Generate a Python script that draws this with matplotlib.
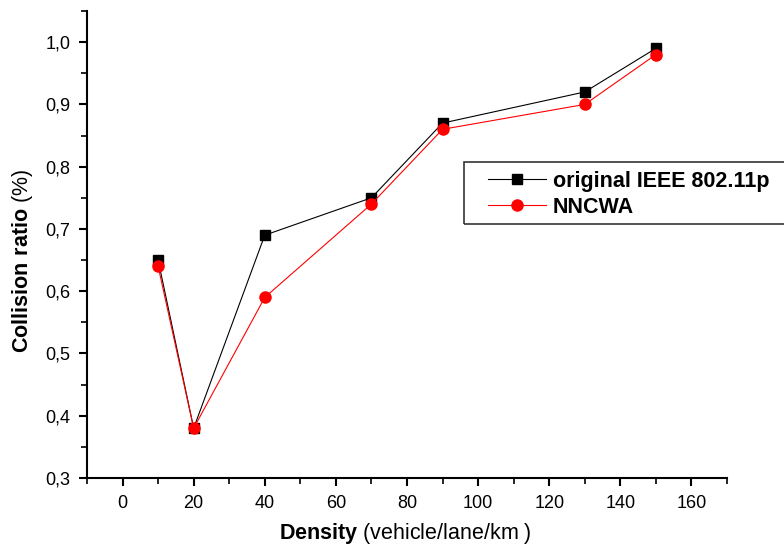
import matplotlib
matplotlib.use("Agg")
import matplotlib.pyplot as plt
from matplotlib.patches import Rectangle
from matplotlib.ticker import MultipleLocator

plt.rcParams['font.family'] = ['Liberation Sans', 'DejaVu Sans']
plt.rcParams['mathtext.fontset'] = 'custom'
plt.rcParams['mathtext.rm'] = 'Liberation Sans'
plt.rcParams['mathtext.bf'] = 'Liberation Sans:bold'

# Vehicle density (vehicle/lane/km)
density = [10, 20, 40, 70, 90, 130, 150]
# Collision ratio per scheme
ieee_80211p = [0.65, 0.38, 0.69, 0.75, 0.87, 0.92, 0.99]
nncwa = [0.64, 0.38, 0.59, 0.74, 0.86, 0.90, 0.98]

W, H = 784, 547
fig = plt.figure(figsize=(W / 100, H / 100), dpi=100)
ax = fig.add_axes([87 / W, 1 - 478 / H, (727 - 87) / W, (478 - 11) / H])

ax.plot(density, ieee_80211p, color='black', lw=0.8, marker='s', ms=7,
        mfc='black', mec='black', label='original IEEE 802.11p', zorder=3)
ax.plot(density, nncwa, color='red', lw=0.8, marker='o', ms=8,
        mfc='red', mec='red', label='NNCWA', zorder=4)

ax.set_xlim(-10, 170)
ax.set_ylim(0.3, 1.05)
ax.xaxis.set_major_locator(MultipleLocator(20))
ax.xaxis.set_minor_locator(MultipleLocator(10))
ax.yaxis.set_major_locator(MultipleLocator(0.1))
ax.yaxis.set_minor_locator(MultipleLocator(0.05))
ax.yaxis.set_major_formatter(plt.FuncFormatter(lambda v, p: f"{v:.1f}".replace('.', ',')))

for s in ('top', 'right'):
    ax.spines[s].set_visible(False)
for s in ('left', 'bottom'):
    ax.spines[s].set_linewidth(1.5)

ax.tick_params(axis='both', which='major', direction='out', length=6, width=1.5,
               labelsize=13, pad=6)
ax.tick_params(axis='both', which='minor', direction='out', length=4, width=1.2)

# Axis titles: bold quantity followed by regular unit
fig.text(405.5 / W, 1 - 539 / H, r'$\bf{Density}$ (vehicle/lane/km )',
         fontsize=15.5, ha='center', va='baseline')
fig.text(23 / W, 1 - 260.5 / H, r'$\bf{Collision\ ratio}$ (%)',
         fontsize=15.5, ha='center', va='center', rotation=90)

# Legend box, open to the right edge
fig.patches.append(Rectangle((464 / W, 1 - 224 / H), 400 / W, 62 / H,
                             transform=fig.transFigure, fill=False,
                             edgecolor='#333333', lw=1.2))
leg = ax.legend(loc='upper left', bbox_to_anchor=(488 / W, 1 - 171 / H),
                bbox_transform=fig.transFigure, frameon=False,
                prop={'weight': 'bold', 'size': 15.5}, handlelength=2.7,
                handletextpad=0.3, labelspacing=0.22, borderpad=0.0,
                borderaxespad=0.0)

fig.savefig('out.png', dpi=100)
